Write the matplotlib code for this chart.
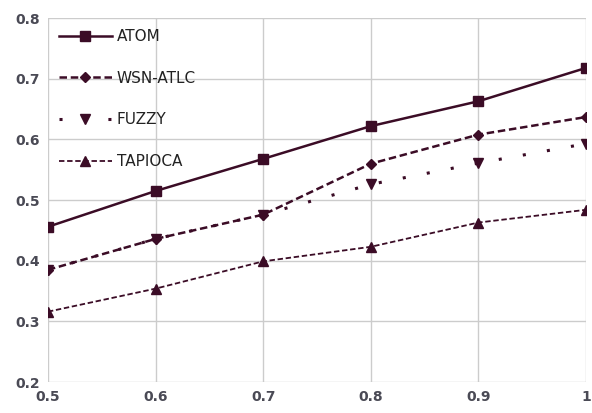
import matplotlib
matplotlib.use("Agg")
import matplotlib.pyplot as plt

x = [0.5, 0.6, 0.7, 0.8, 0.9, 1.0]
atom = [0.456, 0.515, 0.568, 0.622, 0.663, 0.718]
wsn_atlc = [0.385, 0.436, 0.476, 0.560, 0.608, 0.637]
fuzzy = [0.385, 0.436, 0.476, 0.526, 0.561, 0.593]
tapioca = [0.316, 0.354, 0.399, 0.423, 0.463, 0.484]
xticks = [0.5, 0.6, 0.7, 0.8, 0.9, 1.0]
xticklabels = ["0.5", "0.6", "0.7", "0.8", "0.9", "1"]
yticks = [0.2, 0.3, 0.4, 0.5, 0.6, 0.7, 0.8]

c = "#3b0c26"
fig = plt.figure(figsize=(5.92, 4.13), dpi=100)
ax = fig.add_axes([0.081, 0.075, 0.909, 0.881])

ax.plot(x, atom, color=c, lw=1.8, ls="-", marker="s", ms=7, label="ATOM")
ax.plot(x, wsn_atlc, color=c, lw=1.8, ls=(0, (3, 1.5)), marker="D", ms=5.5, label="WSN-ATLC")
ax.plot(x, fuzzy, color=c, lw=2.2, ls=(0, (1, 7)), marker="v", ms=7, label="FUZZY")
ax.plot(x, tapioca, color=c, lw=1.3, ls=(0, (3, 1.5)), marker="^", ms=7, label="TAPIOCA")

ax.set_xlim(0.5, 1.0)
ax.set_ylim(0.2, 0.8)
ax.set_xticks(xticks)
ax.set_xticklabels(xticklabels)
ax.set_yticks(yticks)
ax.set_yticklabels([f"{v:.1f}" for v in yticks])
ax.grid(True, color="#cccccc", lw=1)
for s in ax.spines.values():
    s.set_visible(False)
ax.tick_params(length=0, labelsize=10, colors="#4a4a55", pad=6)
for lab in ax.get_xticklabels() + ax.get_yticklabels():
    lab.set_fontweight("bold")

leg = ax.legend(loc="upper left", frameon=False, fontsize=11, handlelength=3.5,
                labelspacing=1.75, borderaxespad=0.3, handletextpad=0.3,
                bbox_to_anchor=(0.0, 1.0))
for t in leg.get_texts():
    t.set_color("#222222")

fig.savefig("out.png", dpi=100)
